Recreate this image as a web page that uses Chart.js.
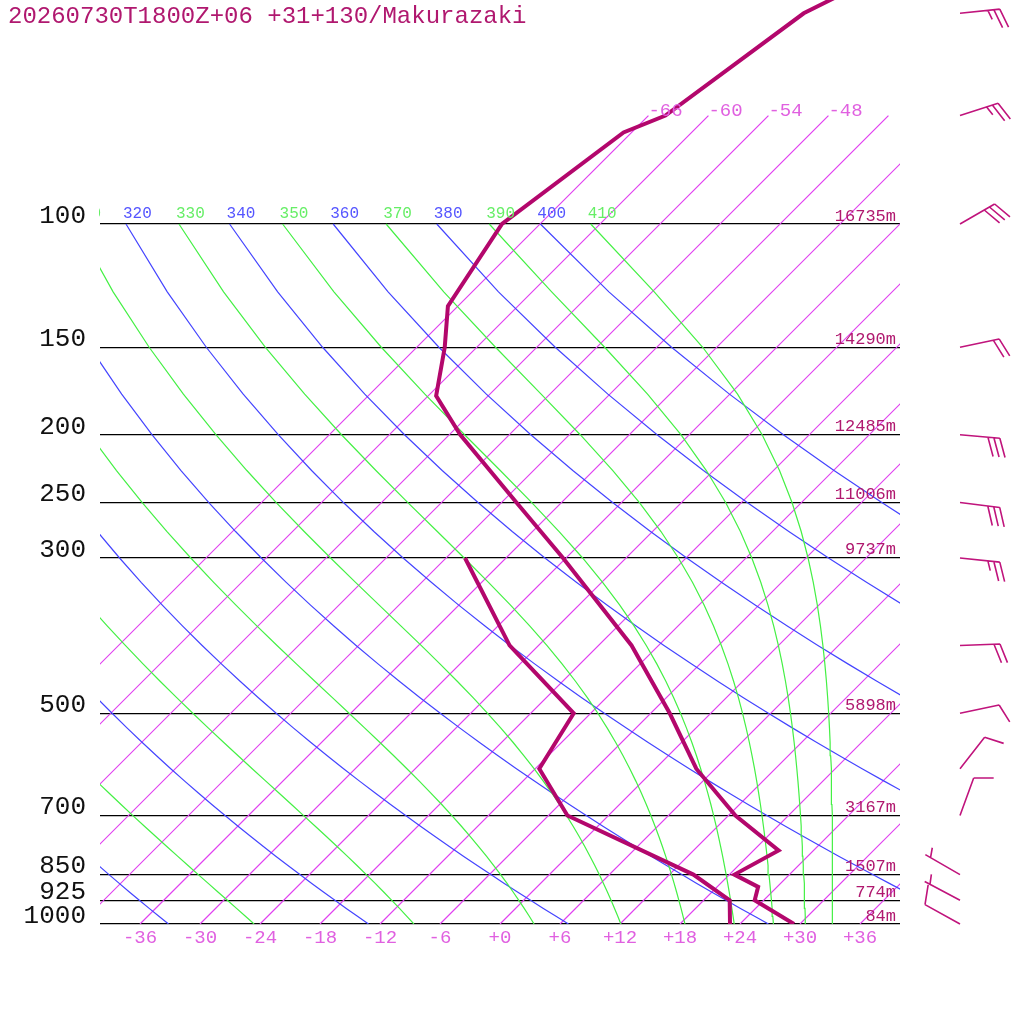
<!DOCTYPE html>
<html>
<head>
<meta charset="utf-8">
<title>Makurazaki sounding</title>
<script src="https://cdn.jsdelivr.net/npm/chart.js@4.4.1/dist/chart.umd.min.js"></script>
<style>
  html, body { margin: 0; padding: 0; background: #fff; }
  #wrap { width: 1024px; height: 1024px; }
</style>
</head>
<body>
<div id="wrap"><canvas id="skewt" width="1024" height="1024"></canvas></div>
<script>
// SOUNDING
const tempPressures = [1000, 925, 885, 850, 785, 700, 600, 500, 400, 300, 250, 200, 176, 150, 131, 100, 74, 70, 50, 30];
const tempValues    = [29.4, 23.1, 22.1, 18.5, 20.5, 12.7, 4.1, -4.1, -14.7, -30.3, -40.5, -52.9, -59.2, -63.2, -67.0, -69.8, -66.8, -64.3, -60.7, -45.2];
const dewPressures  = [1000, 925, 850, 700, 600, 500, 400, 300];
const dewValues     = [23.0, 20.6, 14.4, -4.1, -11.6, -13.7, -26.9, -40.1];

// WINDS (direction in degrees, speed in knots)
const windPressures  = [1000, 925, 850, 700, 600, 500, 400, 300, 250, 200, 150, 100, 70, 50];
const windDirections = [299, 298, 300, 20, 38, 78, 88, 96, 97, 95, 78, 60, 72, 84];
const windSpeeds     = [10, 5, 5, 10, 10, 10, 20, 25, 30, 30, 20, 30, 25, 25];

// AXES
const pressureTicks = [1000, 925, 850, 700, 500, 300, 250, 200, 150, 100];
const heightLabels  = ['84m', '774m', '1507m', '3167m', '5898m', '9737m', '11006m', '12485m', '14290m', '16735m'];
const tempTicks     = [-36, -30, -24, -18, -12, -6, 0, 6, 12, 18, 24, 30, 36];

// BACKGROUND LINES
const isotherms     = [-66, -60, -54, -48, -42, -36, -30, -24, -18, -12, -6, 0, 6, 12, 18, 24, 30, 36];
const isothermTop   = 70;
const dryAdiabats   = [240, 260, 280, 300, 320, 340, 360, 380, 400];
const moistAdiabats = [250, 270, 290, 310, 330, 350, 370, 390, 410];
const adiabatPressures = [1000, 975, 950, 925, 900, 875, 850, 825, 800, 775, 750, 725, 700, 675, 650, 625, 600,
  575, 550, 525, 500, 475, 450, 425, 400, 375, 350, 325, 300, 275, 250, 225, 200, 175, 150, 125, 100];

const TITLE = '20260730T1800Z+06 +31+130/Makurazaki';
const SKEW = 70;              // degrees of x shift per decade of pressure
const P_TOP = 1000 * Math.pow(10, -924 / 700);
const FONT = 'Liberation Mono';

const PROFILE = '#b3076c';
const ISO = '#e040f0';
const DRY = '#4444ff';
const MOIST = '#44f044';

function skewX(t, p) {
  return t + SKEW * Math.log10(1000 / p);
}

function dryTemp(theta, p) {
  return theta * Math.pow(p / 1000, 0.2857) - 273.15;
}

// Bolton equivalent potential temperature of saturated air
function thetaESat(tc, p) {
  const es = 6.112 * Math.exp(17.67 * tc / (tc + 243.5));
  const r = 622 * es / (p - es);
  const tk = tc + 273.15;
  return tk * Math.pow(1000 / p, 0.2854 * (1 - 0.00028 * r)) *
    Math.exp((3.376 / tk - 0.00254) * r * (1 + 0.00081 * r));
}

function moistTemp(thetaE, p) {
  let lo = -140, hi = 45;
  for (let i = 0; i < 60; i++) {
    const mid = (lo + hi) / 2;
    if (thetaESat(mid, p) > thetaE) hi = mid; else lo = mid;
  }
  return (lo + hi) / 2;
}

function lineSet(points, color, width) {
  return {
    data: points, showLine: true, borderColor: color, backgroundColor: color,
    borderWidth: width, pointRadius: 0, fill: false, tension: 0
  };
}

const datasets = [];
datasets.push(lineSet(tempPressures.map((p, i) => ({ x: skewX(tempValues[i], p), y: p })), PROFILE, 4));
datasets.push(lineSet(dewPressures.map((p, i) => ({ x: skewX(dewValues[i], p), y: p })), PROFILE, 4));
moistAdiabats.forEach(th => {
  datasets.push(lineSet(adiabatPressures.map(p => ({ x: skewX(moistTemp(th, p), p), y: p })), MOIST, 1.2));
});
dryAdiabats.forEach(th => {
  datasets.push(lineSet(adiabatPressures.map(p => ({ x: skewX(dryTemp(th, p), p), y: p })), DRY, 1.2));
});
isotherms.forEach(t => {
  datasets.push(lineSet([{ x: skewX(t, 1000), y: 1000 }, { x: skewX(t, isothermTop), y: isothermTop }], ISO, 1.2));
});

// WIND BARB
function drawBarb(ctx, x0, y0, dir, speed) {
  const rad = dir * Math.PI / 180;
  const ux = Math.sin(rad), uy = -Math.cos(rad);
  const tipX = x0 + ux * 40, tipY = y0 + uy * 40;
  const a = 70 * Math.PI / 180;
  const bx = ux * Math.cos(a) - uy * Math.sin(a);
  const by = ux * Math.sin(a) + uy * Math.cos(a);
  ctx.beginPath();
  ctx.moveTo(x0, y0);
  ctx.lineTo(tipX, tipY);
  const full = Math.floor(speed / 10);
  const half = speed % 10 >= 5;
  let pos = (full === 0 && half) ? 1 : 0;
  for (let i = 0; i < full; i++, pos++) {
    const sx = tipX - ux * pos * 6, sy = tipY - uy * pos * 6;
    ctx.moveTo(sx, sy);
    ctx.lineTo(sx + bx * 20, sy + by * 20);
  }
  if (half) {
    const sx = tipX - ux * pos * 6, sy = tipY - uy * pos * 6;
    ctx.moveTo(sx, sy);
    ctx.lineTo(sx + bx * 10, sy + by * 10);
  }
  ctx.stroke();
}

// TEXT + BARBS
const decorations = {
  id: 'decorations',
  afterDraw(chart) {
    const { ctx, chartArea: area, scales: { x, y } } = chart;
    ctx.save();
    ctx.textBaseline = 'middle';

    // title
    ctx.font = '24px "' + FONT + '"';
    ctx.fillStyle = '#b0186f';
    ctx.textAlign = 'left';
    ctx.fillText(TITLE, 8, 17);

    // heights
    ctx.font = '17px "' + FONT + '"';
    ctx.textAlign = 'right';
    pressureTicks.forEach((p, i) => {
      ctx.fillText(heightLabels[i], 896, y.getPixelForValue(p) - 8);
    });

    // isotherm labels at the top end
    ctx.font = '19px "' + FONT + '"';
    ctx.fillStyle = '#e060e0';
    ctx.textAlign = 'left';
    isotherms.forEach(t => {
      const px = x.getPixelForValue(skewX(t, isothermTop));
      const label = String(t);
      if (px >= area.left && px + ctx.measureText(label).width <= area.right) {
        ctx.fillText(label, px, y.getPixelForValue(isothermTop) - 5);
      }
    });

    // adiabat labels along 100 hPa
    ctx.save();
    ctx.beginPath();
    ctx.rect(area.left - 1, 0, area.right - area.left + 1, area.bottom);
    ctx.clip();
    ctx.font = '16px "' + FONT + '"';
    const yTop = y.getPixelForValue(100) - 10;
    dryAdiabats.forEach(th => {
      ctx.fillStyle = '#5555ff';
      ctx.fillText(String(th), x.getPixelForValue(skewX(dryTemp(th, 100), 100)) - 3, yTop);
    });
    moistAdiabats.forEach(th => {
      ctx.fillStyle = '#66ee66';
      ctx.fillText(String(th), x.getPixelForValue(skewX(moistTemp(th, 100), 100)) - 3, yTop);
    });
    ctx.restore();

    // wind barbs
    ctx.strokeStyle = '#c0147c';
    ctx.lineWidth = 1.6;
    windPressures.forEach((p, i) => {
      drawBarb(ctx, 960, y.getPixelForValue(p), windDirections[i], windSpeeds[i]);
    });
    ctx.restore();
  }
};

new Chart(document.getElementById('skewt'), {
  type: 'scatter',
  data: { datasets },
  plugins: [decorations],
  options: {
    responsive: false,
    animation: false,
    devicePixelRatio: 1,
    layout: { padding: { left: 0, right: 124, top: 0, bottom: 0 } },
    plugins: { legend: { display: false }, tooltip: { enabled: false } },
    scales: {
      x: {
        type: 'linear', min: -40, max: 40, bounds: 'data', position: 'bottom',
        afterBuildTicks: s => { s.ticks = tempTicks.map(v => ({ value: v })); },
        afterFit: s => { s.height = 100; s.paddingLeft = 0; s.paddingRight = 0; },
        grid: { display: false, drawTicks: false },
        border: { display: false },
        ticks: {
          color: '#e060e0', font: { family: FONT, size: 19 }, padding: 3,
          maxRotation: 0, autoSkip: false,
          callback: v => (v >= 0 ? '+' : '') + v
        }
      },
      y: {
        type: 'logarithmic', reverse: true, min: P_TOP, max: 1000, bounds: 'data', position: 'left',
        afterBuildTicks: s => { s.ticks = pressureTicks.map(v => ({ value: v })); },
        afterFit: s => { s.width = 100; s.paddingTop = 0; s.paddingBottom = 0; },
        grid: { color: '#000', lineWidth: 1.2, drawTicks: false },
        border: { display: false },
        ticks: {
          color: '#111', font: { family: FONT, size: 26 }, padding: 14, labelOffset: -8,
          autoSkip: false, callback: v => String(v)
        }
      }
    }
  }
});
</script>
</body>
</html>
